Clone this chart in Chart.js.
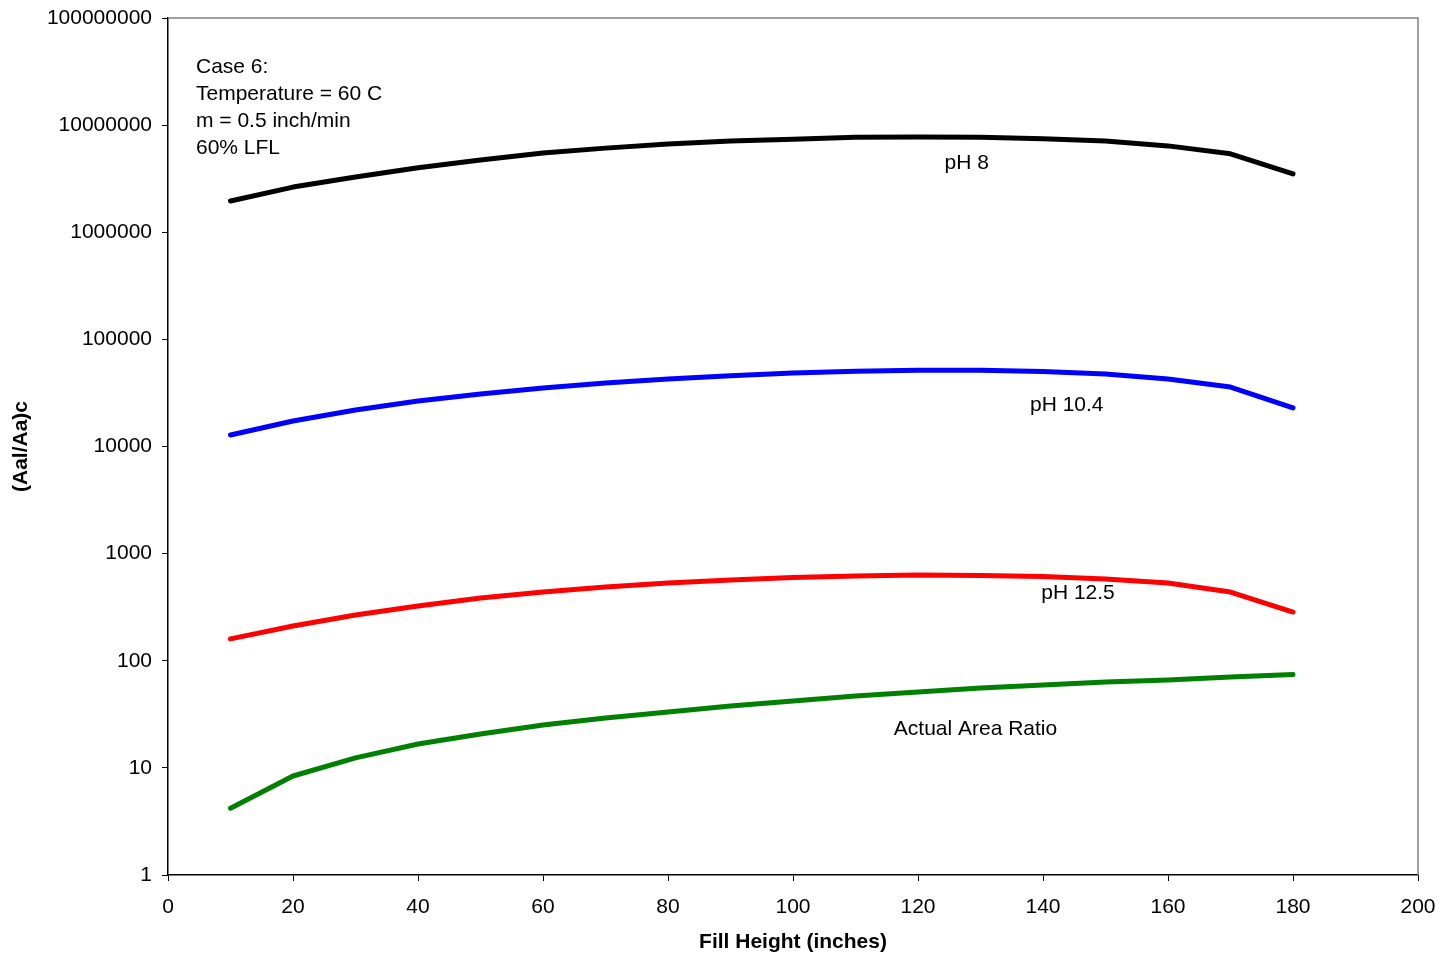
<!DOCTYPE html>
<html>
<head>
<meta charset="utf-8">
<script src="https://cdn.jsdelivr.net/npm/chart.js@4.4.1/dist/chart.umd.min.js"></script>
<style>
  html, body { margin: 0; padding: 0; background: #fff; }
  #wrap { width: 1441px; height: 955px; }
</style>
</head>
<body>
<div id="wrap"><canvas id="c" width="1441" height="955"></canvas></div>
<script>
// Fill height (inches)
const fillHeight = [10, 20, 30, 40, 50, 60, 70, 80, 90, 100, 110, 120, 130, 140, 150, 160, 170, 180];

// (Aal/Aa)c for each pH, and the actual area ratio
const ph8 = [1960000, 2640000, 3280000, 4000000, 4720000, 5500000, 6100000, 6660000, 7100000,
             7400000, 7700000, 7750000, 7700000, 7450000, 7100000, 6400000, 5400000, 3500000];
const ph104 = [12800, 17300, 21900, 26600, 30900, 35200, 39200, 42700, 45800,
               48500, 50500, 51500, 51500, 50000, 47500, 42700, 35900, 22900];
const ph125 = [160, 211, 267, 324, 385, 438, 488, 532, 567,
               599, 618, 632, 625, 610, 580, 532, 438, 285];
const actualRatio = [4.2, 8.4, 12.4, 16.7, 20.7, 25.1, 29.2, 33.2, 37.8,
                     42.1, 46.9, 51.0, 55.7, 59.4, 63.4, 66.2, 70.6, 74.5];

const yTicks = [1, 10, 100, 1000, 10000, 100000, 1000000, 10000000, 100000000];

const caseNotes = ['Case 6:', 'Temperature = 60 C', 'm = 0.5 inch/min', '60% LFL'];
const seriesLabels = [
  { text: 'pH 8', x: 127.8, y: 4.4e6 },
  { text: 'pH 10.4', x: 143.8, y: 2.44e4 },
  { text: 'pH 12.5', x: 145.6, y: 429 },
  { text: 'Actual Area Ratio', x: 129.2, y: 22.8 }
];

const FONT = '"Liberation Sans", Arial, sans-serif';

const mkSeries = (label, data, color) => ({
  label,
  data: data.map((v, i) => ({ x: fillHeight[i], y: v })),
  borderColor: color,
  backgroundColor: color,
  borderWidth: 5,
  borderCapStyle: 'round',
  borderJoinStyle: 'round',
  pointRadius: 0,
  tension: 0,
  fill: false
});

// Gray frame on top/right, plus the text annotations
const decor = {
  id: 'decor',
  beforeDatasetsDraw(chart) {
    const { ctx, chartArea: a } = chart;
    ctx.save();
    ctx.strokeStyle = '#808080';
    ctx.lineWidth = 1.5;
    ctx.beginPath();
    ctx.moveTo(a.left, a.top);
    ctx.lineTo(a.right, a.top);
    ctx.lineTo(a.right, a.bottom);
    ctx.stroke();
    ctx.restore();
  },
  afterDatasetsDraw(chart) {
    const { ctx, chartArea: a, scales } = chart;
    ctx.save();
    ctx.fillStyle = '#000';
    ctx.font = '21px ' + FONT;
    ctx.textBaseline = 'middle';
    ctx.textAlign = 'left';
    caseNotes.forEach((t, i) => ctx.fillText(t, a.left + 28, a.top + 49 + i * 27));
    ctx.textAlign = 'center';
    seriesLabels.forEach(l => {
      ctx.fillText(l.text, scales.x.getPixelForValue(l.x), scales.y.getPixelForValue(l.y));
    });
    ctx.restore();
  }
};

new Chart(document.getElementById('c'), {
  type: 'line',
  data: {
    datasets: [
      mkSeries('pH 8', ph8, '#000000'),
      mkSeries('pH 10.4', ph104, '#0000ff'),
      mkSeries('pH 12.5', ph125, '#ff0000'),
      mkSeries('Actual Area Ratio', actualRatio, '#008000')
    ]
  },
  options: {
    responsive: false,
    animation: false,
    layout: { padding: { top: 18, right: 23, left: 0, bottom: 0 } },
    plugins: { legend: { display: false }, tooltip: { enabled: false } },
    scales: {
      x: {
        type: 'linear',
        min: 0, max: 200,
        ticks: { stepSize: 20, color: '#000', font: { family: FONT, size: 21 }, padding: 14, maxRotation: 0 },
        grid: { drawOnChartArea: false, tickLength: 6, color: '#000', tickColor: '#000' },
        border: { color: '#000', width: 1.5 },
        title: { display: true, text: 'Fill Height (inches)', color: '#000',
                 font: { family: FONT, size: 21, weight: 'bold' }, padding: { top: 0, bottom: 0 } },
        afterFit(s) { s.height = 80; s.paddingLeft = 0; s.paddingRight = 0; }
      },
      y: {
        type: 'logarithmic',
        min: 1, max: 100000000,
        afterBuildTicks(s) { s.ticks = yTicks.map(v => ({ value: v, major: true })); },
        ticks: {
          color: '#000', font: { family: FONT, size: 21 }, padding: 10,
          autoSkip: false,
          callback: v => String(v)
        },
        grid: { drawOnChartArea: false, tickLength: 6, color: '#000', tickColor: '#000' },
        border: { color: '#000', width: 1.5 },
        title: { display: true, text: '(Aal/Aa)c', color: '#000',
                 font: { family: FONT, size: 21, weight: 'bold' }, padding: { top: 9, bottom: 0 } },
        afterFit(s) { s.width = 168; s.paddingTop = 0; s.paddingBottom = 0; }
      }
    }
  },
  plugins: [decor]
});
</script>
</body>
</html>
